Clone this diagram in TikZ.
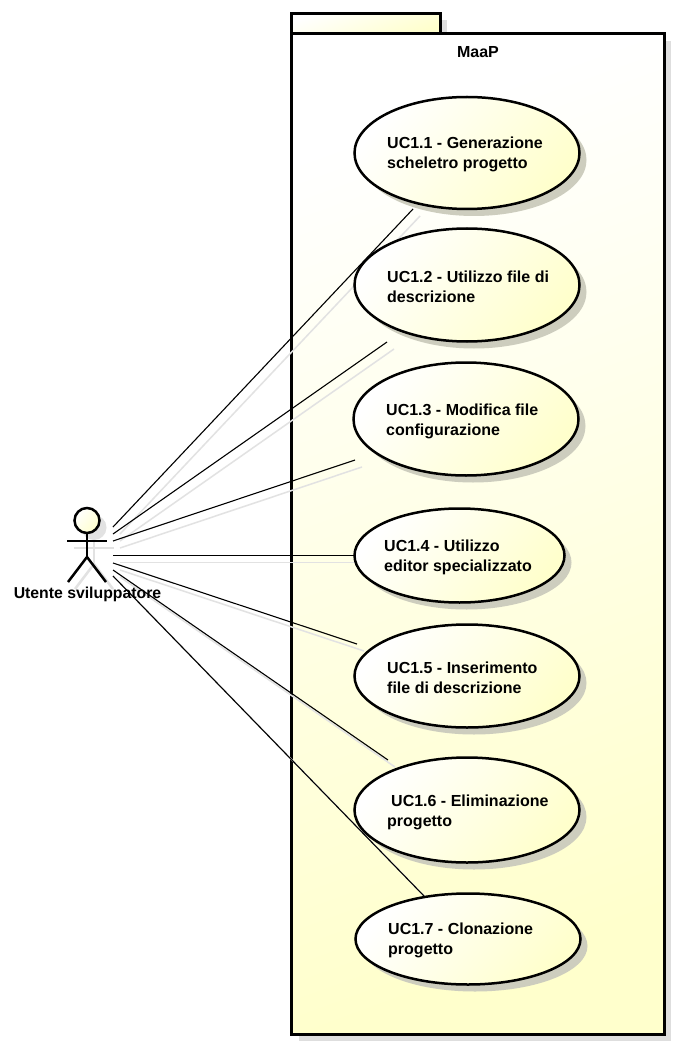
\documentclass[tikz,border=0pt]{standalone}
\usepackage{fontspec}
\setmainfont{Liberation Sans}
\usetikzlibrary{shapes.geometric,shadows}
\definecolor{ylw}{HTML}{FFFFCC}
\definecolor{pkgshadow}{HTML}{DEDEDE}
\definecolor{elshadow}{HTML}{CDCDBE}
\definecolor{linkgrey}{HTML}{E2E2E2}
\tikzset{
  pkgbox/.style={draw=black,line width=3pt,rectangle,inner sep=0pt,outer sep=0pt,
    top color=white,bottom color=ylw,shading angle=20,
    drop shadow={shadow xshift=7pt,shadow yshift=-7pt,fill=pkgshadow,opacity=1}},
  usecase/.style={draw=black,line width=2.5pt,ellipse,inner sep=0pt,outer sep=0pt,
    top color=white,bottom color=ylw,shading angle=50,
    drop shadow={shadow xshift=7pt,shadow yshift=-7pt,fill=elshadow,opacity=1}},
  uclabel/.style={anchor=west,align=left,inner sep=0pt,font=\fontsize{16}{20.3}\selectfont\bfseries},
  link/.style={draw=black,line width=1.1pt},
  linkshadow/.style={draw=linkgrey,line width=1.5pt},
  stick/.style={draw=black,line width=2.5pt},
  stickshadow/.style={draw=linkgrey,line width=2.5pt}
}
\begin{document}
\begin{tikzpicture}[x=1pt,y=-1pt]
\useasboundingbox[fill=white] (0,0) rectangle (678,1048);
% package
\node[pkgbox,minimum width=148.6pt,minimum height=20.2pt] (tab) at (366,23.6) {};
\node[pkgbox,minimum width=372.6pt,minimum height=1000.3pt] (pkg) at (478,533.85) {};
\node[font=\fontsize{16}{19}\selectfont\bfseries,inner sep=0pt] (pkgname) at (478,52) {MaaP};
% connector ends
\coordinate (a1) at (113,527); \coordinate (e1) at (413,209);
\coordinate (a2) at (113,534); \coordinate (e2) at (387,342);
\coordinate (a3) at (113,541); \coordinate (e3) at (355,460);
\coordinate (a4) at (113,555.5); \coordinate (e4) at (354,555.5);
\coordinate (a5) at (113,563); \coordinate (e5) at (357,644);
\coordinate (a6) at (113,570); \coordinate (e6) at (388,760);
\coordinate (a7) at (113,576); \coordinate (e7) at (424,896);
\foreach \i in {1,...,7}{
  \draw[linkshadow] ([shift={(7,7)}]a\i) -- ([shift={(7,7)}]e\i);
}
\foreach \i in {1,...,7}{
  \draw[link] (a\i) -- (e\i);
}
% use cases
\node[usecase,minimum width=225pt,minimum height=112pt] (uc1) at (467,153) {};
\node[usecase,minimum width=225pt,minimum height=113pt] (uc2) at (467,285) {};
\node[usecase,minimum width=225pt,minimum height=113pt] (uc3) at (466,419) {};
\node[usecase,minimum width=210pt,minimum height=94pt] (uc4) at (459.5,555.5) {};
\node[usecase,minimum width=225pt,minimum height=103pt] (uc5) at (467,676) {};
\node[usecase,minimum width=225pt,minimum height=105pt] (uc6) at (467,810) {};
\node[usecase,minimum width=225pt,minimum height=91pt] (uc7) at (468,939) {};
\node[uclabel] (t1) at (387,154.5) {UC1.1 - Generazione\\scheletro progetto};
\node[uclabel] (t2) at (387,287) {UC1.2 - Utilizzo file di\\descrizione};
\node[uclabel] (t3) at (386,421.5) {UC1.3 - Modifica file\\configurazione};
\node[uclabel] (t4) at (384,557.5) {UC1.4 - Utilizzo\\editor specializzato};
\node[uclabel] (t5) at (387,677.5) {UC1.5 - Inserimento\\file di descrizione};
\node[uclabel] (t6) at (387,812.5) {\hspace*{4pt}UC1.6 - Eliminazione\\progetto};
\node[uclabel] (t7) at (388,940.5) {UC1.7 - Clonazione\\progetto};
% actor
\begin{scope}[shift={(7,7)}]
  \draw[stickshadow] (67,541) -- (107,541);
  \draw[stickshadow] (87,533) -- (87,557);
  \draw[stickshadow] (68,582) -- (87,557) -- (106,582);
\end{scope}
\node[circle,draw=black,line width=2.5pt,minimum size=25pt,inner sep=0pt,outer sep=0pt,
  top color=white,bottom color=ylw,shading angle=50,
  drop shadow={shadow xshift=7pt,shadow yshift=-7pt,fill=linkgrey,opacity=1}] (head) at (87,520.5) {};
\coordinate (hip) at (87,557);
\draw[stick] (head.south) -- (hip);
\draw[stick] (67,541) -- (107,541);
\draw[stick] (68,582) -- (hip) -- (106,582);
\node[font=\fontsize{15.8}{19}\selectfont\bfseries,inner sep=0pt] (actorname) at (87.5,594) {Utente sviluppatore};
\end{tikzpicture}
\end{document}
